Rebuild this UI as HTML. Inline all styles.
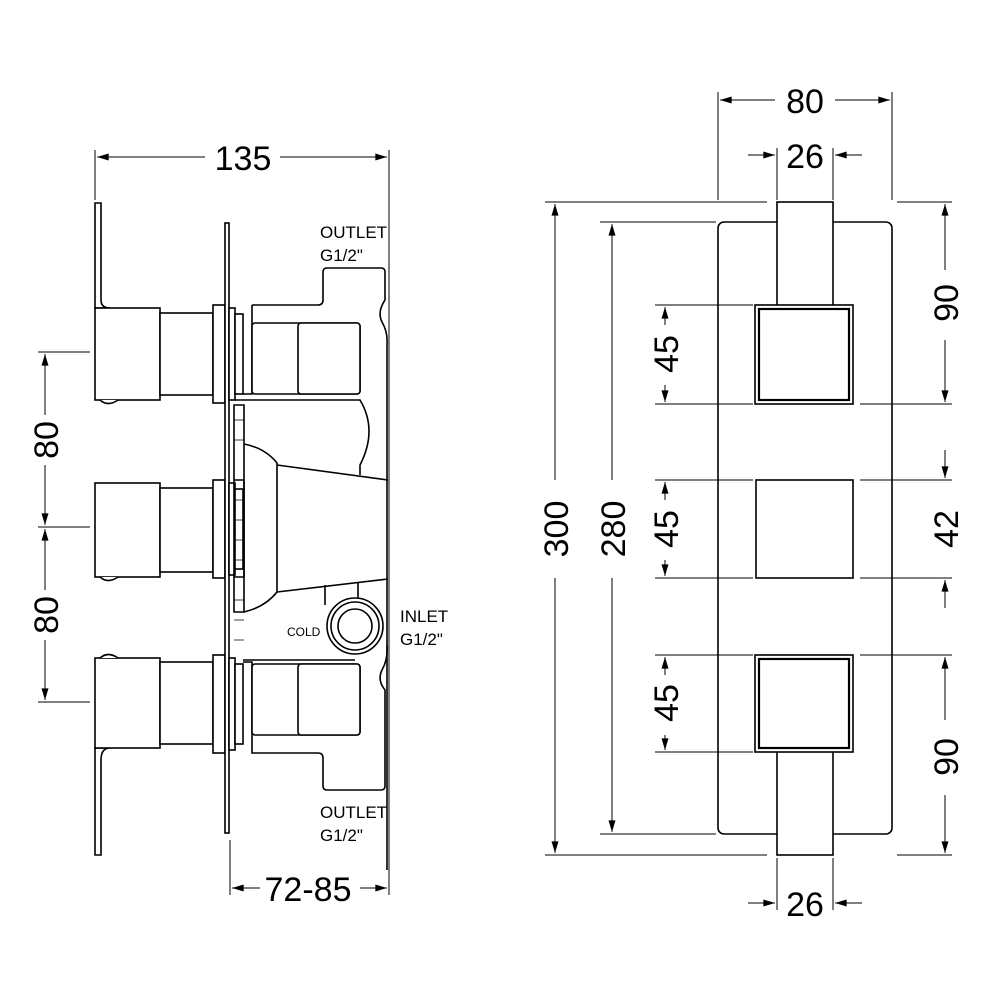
<!DOCTYPE html>
<html><head><style>html,body{margin:0;padding:0;background:#fff}svg{display:block}</style></head>
<body>
<svg width="1000" height="1000" viewBox="0 0 1000 1000" xmlns="http://www.w3.org/2000/svg" font-family="Liberation Sans, sans-serif">
<defs>
<marker id="a" viewBox="0 0 10 6" refX="10" refY="3" markerWidth="14" markerHeight="7" markerUnits="userSpaceOnUse" orient="auto"><path d="M0,0L10,3L0,6z" fill="#000"/></marker>
</defs>
<g stroke="#000" fill="none" stroke-width="1">
<line x1="95" y1="150" x2="95" y2="200"/><line x1="389" y1="150" x2="389" y2="895"/>
<line x1="205" y1="157" x2="97" y2="157" marker-end="url(#a)"/><line x1="280" y1="157" x2="387" y2="157" marker-end="url(#a)"/>
<line x1="230" y1="840" x2="230" y2="895"/>
<line x1="260" y1="888" x2="232" y2="888" marker-end="url(#a)"/><line x1="360" y1="888" x2="387" y2="888" marker-end="url(#a)"/>
<line x1="38" y1="352" x2="90" y2="352"/><line x1="38" y1="527" x2="90" y2="527"/><line x1="38" y1="702" x2="90" y2="702"/>
<line x1="45" y1="415" x2="45" y2="354" marker-end="url(#a)"/><line x1="45" y1="465" x2="45" y2="525" marker-end="url(#a)"/>
<line x1="45" y1="590" x2="45" y2="529" marker-end="url(#a)"/><line x1="45" y1="640" x2="45" y2="700" marker-end="url(#a)"/>
</g>
<g stroke="#000" fill="#fff" stroke-width="1.6">
<path d="M95,203 H101 V300 Q101,308 110,308 H95 Z"/>
<path d="M95,855 H101 V760 Q101,748 110,748 H95 Z"/>
<rect x="95" y="308" width="65" height="92"/>
<rect x="95" y="483" width="65" height="94"/>
<rect x="95" y="658" width="65" height="90"/>
<path d="M100,400 Q108,407 118,400"/><path d="M100,577 Q108,584 118,577"/><path d="M100,658 Q108,651 118,658"/>
<rect x="160" y="313" width="53" height="82"/><rect x="160" y="488" width="53" height="84"/><rect x="160" y="662" width="53" height="82"/>
<rect x="213" y="305" width="12" height="98"/><rect x="213" y="480" width="12" height="98"/><rect x="213" y="655" width="12" height="98"/>
<rect x="225" y="223" width="4" height="610"/>
<rect x="229" y="308" width="6" height="92"/><rect x="229" y="483" width="6" height="92"/><rect x="229" y="658" width="6" height="92"/>
<rect x="235" y="314" width="8" height="80"/><rect x="235" y="489" width="8" height="80"/><rect x="235" y="664" width="8" height="80"/>
<path d="M252,305 H318 Q323,305 323,300 V272 Q323,268 327,268 H381 Q385,268 385,272 V300 Q377,312 382,322 Q388,332 387,345 L387,870" fill="none"/>
<path d="M252,305 V394 H243" fill="none"/>
<path d="M387,645 Q388,660 382,670 Q377,680 385,690 V786 Q385,790 381,790 H327 Q323,790 323,786 V758 Q323,753 318,753 H252 V662 H243" fill="none"/>
<rect x="252" y="323" width="108" height="71" rx="3"/><rect x="298" y="323" width="62" height="71" rx="3"/>
<rect x="252" y="664" width="108" height="71" rx="3"/><rect x="298" y="664" width="62" height="71" rx="3"/>
<path d="M235,400 H360 Q378,430 360,465 V475" fill="none"/>
<path d="M234,405 H244 V612 H234 Z" fill="none"/>
<path d="M234,480 H244 V577 H234" fill="none"/>
<path d="M244,444 Q265,448 277,463 V592 Q265,607 244,612" fill="none"/>
<path d="M277,465 L388,480" fill="none"/><path d="M277,592 L388,579" fill="none"/>
<path d="M325,585 V605 M358,583 V600" fill="none"/>
<path d="M243,660 H355" fill="none"/>
<circle cx="355" cy="626" r="28"/><circle cx="355" cy="626" r="24"/><circle cx="355" cy="626" r="17"/>
</g>
<g stroke="#000" stroke-width="0.8">
<path d="M234,420 H244 M234,440 H244 M234,500 H244 M234,520 H244 M234,540 H244 M234,560 H244 M234,600 H244 M234,620 H244 M234,640 H244"/>
</g>
<g stroke="#000" fill="none" stroke-width="1.6">
<rect x="718" y="222" width="174" height="612" rx="6"/>
</g>
<g stroke="#000" fill="none" stroke-width="1">
<line x1="718" y1="92" x2="718" y2="200"/><line x1="892" y1="92" x2="892" y2="200"/>
<line x1="775" y1="100" x2="720" y2="100" marker-end="url(#a)"/><line x1="835" y1="100" x2="890" y2="100" marker-end="url(#a)"/>
<line x1="777" y1="148" x2="777" y2="200"/><line x1="833" y1="148" x2="833" y2="200"/>
<line x1="748" y1="155" x2="775" y2="155" marker-end="url(#a)"/><line x1="862" y1="155" x2="835" y2="155" marker-end="url(#a)"/>
<line x1="777" y1="858" x2="777" y2="910"/><line x1="833" y1="858" x2="833" y2="910"/>
<line x1="748" y1="903" x2="775" y2="903" marker-end="url(#a)"/><line x1="862" y1="903" x2="835" y2="903" marker-end="url(#a)"/>
<line x1="545" y1="202" x2="767" y2="202"/><line x1="545" y1="855" x2="767" y2="855"/>
<line x1="555" y1="480" x2="555" y2="204" marker-end="url(#a)"/><line x1="555" y1="578" x2="555" y2="853" marker-end="url(#a)"/>
<line x1="600" y1="222" x2="716" y2="222"/><line x1="600" y1="834" x2="716" y2="834"/>
<line x1="612" y1="480" x2="612" y2="224" marker-end="url(#a)"/><line x1="612" y1="578" x2="612" y2="832" marker-end="url(#a)"/>
<line x1="655" y1="305" x2="753" y2="305"/><line x1="655" y1="404" x2="753" y2="404"/>
<line x1="655" y1="480" x2="753" y2="480"/><line x1="655" y1="578" x2="753" y2="578"/>
<line x1="655" y1="655" x2="753" y2="655"/><line x1="655" y1="752" x2="753" y2="752"/>
<line x1="665" y1="325" x2="665" y2="307" marker-end="url(#a)"/><line x1="665" y1="385" x2="665" y2="402" marker-end="url(#a)"/>
<line x1="665" y1="500" x2="665" y2="482" marker-end="url(#a)"/><line x1="665" y1="560" x2="665" y2="576" marker-end="url(#a)"/>
<line x1="665" y1="675" x2="665" y2="657" marker-end="url(#a)"/><line x1="665" y1="735" x2="665" y2="750" marker-end="url(#a)"/>
<line x1="897" y1="202" x2="952" y2="202"/><line x1="860" y1="404" x2="952" y2="404"/>
<line x1="860" y1="480" x2="952" y2="480"/><line x1="860" y1="578" x2="952" y2="578"/>
<line x1="860" y1="655" x2="952" y2="655"/><line x1="897" y1="855" x2="952" y2="855"/>
<line x1="945" y1="270" x2="945" y2="204" marker-end="url(#a)"/><line x1="945" y1="340" x2="945" y2="402" marker-end="url(#a)"/>
<line x1="945" y1="450" x2="945" y2="478" marker-end="url(#a)"/><line x1="945" y1="608" x2="945" y2="580" marker-end="url(#a)"/>
<line x1="945" y1="720" x2="945" y2="657" marker-end="url(#a)"/><line x1="945" y1="795" x2="945" y2="853" marker-end="url(#a)"/>
</g>
<g stroke="#000" fill="#fff" stroke-width="1.6">
<rect x="777" y="202" width="56" height="105"/>
<rect x="777" y="750" width="56" height="105"/>
<rect x="755" y="305" width="98" height="99"/><rect x="759" y="309" width="90" height="91" stroke-width="2.2"/>
<rect x="756" y="480" width="97" height="98"/>
<rect x="755" y="655" width="98" height="97"/><rect x="759" y="659" width="90" height="89" stroke-width="2.2"/>
</g>
<g font-size="34" fill="#000" text-anchor="middle">
<text x="243" y="170">135</text>
<text x="308" y="901">72-85</text>
<text x="805" y="113">80</text>
<text x="805" y="168">26</text>
<text x="805" y="916">26</text>
<text transform="translate(58,440) rotate(-90)">80</text>
<text transform="translate(58,615) rotate(-90)">80</text>
<text transform="translate(568,529) rotate(-90)">300</text>
<text transform="translate(625,529) rotate(-90)">280</text>
<text transform="translate(678,354) rotate(-90)">45</text>
<text transform="translate(678,529) rotate(-90)">45</text>
<text transform="translate(678,703) rotate(-90)">45</text>
<text transform="translate(958,303) rotate(-90)">90</text>
<text transform="translate(958,529) rotate(-90)">42</text>
<text transform="translate(958,757) rotate(-90)">90</text>
</g>
<g font-size="17" fill="#000">
<text x="320" y="238">OUTLET</text><text x="320" y="261">G1/2"</text>
<text x="320" y="818">OUTLET</text><text x="320" y="841">G1/2"</text>
<text x="400" y="622">INLET</text><text x="400" y="645">G1/2"</text>
<text x="287" y="636" font-size="12">COLD</text>
</g>
</svg>
</body></html>
